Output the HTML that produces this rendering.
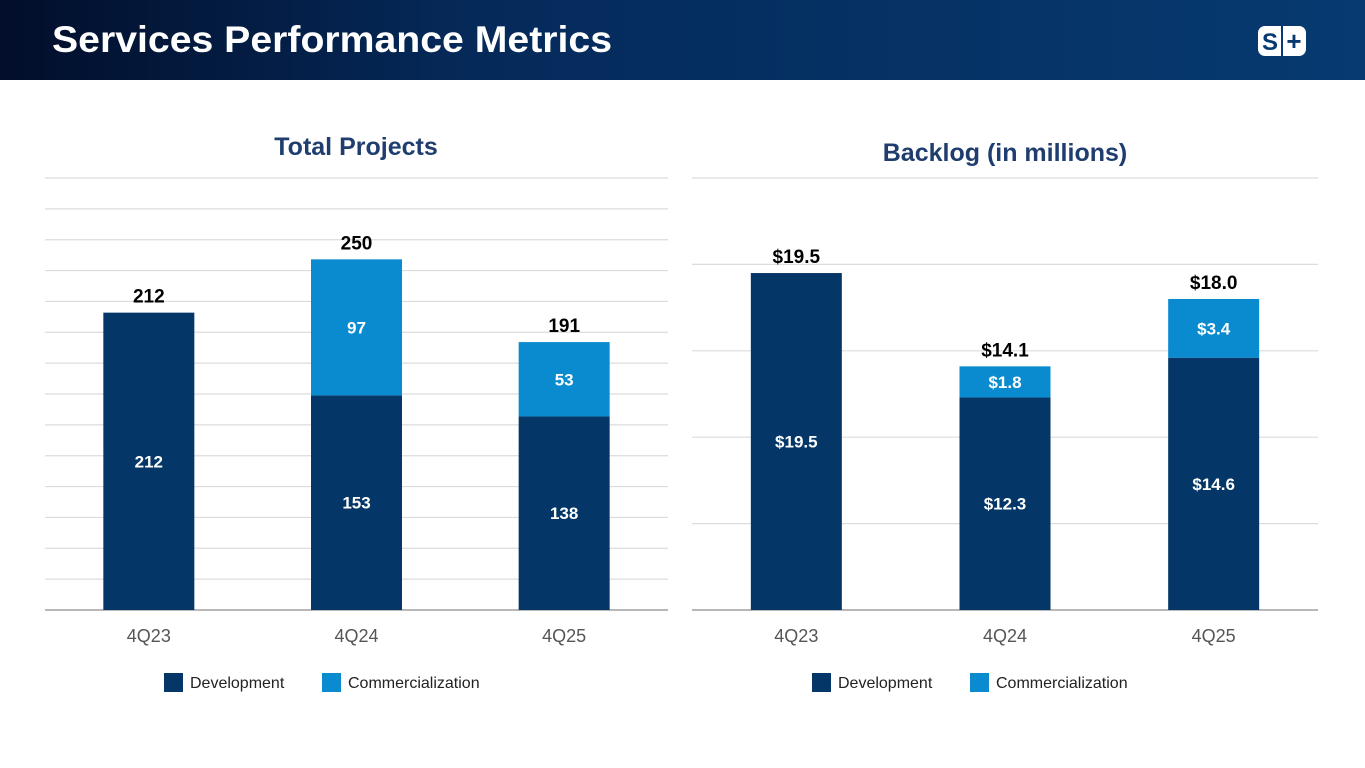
<!DOCTYPE html>
<html><head><meta charset="utf-8"><style>
html,body{margin:0;padding:0;background:#fff;}
svg{display:block;font-family:"Liberation Sans",sans-serif;}
</style></head><body>
<svg id="s" width="1365" height="768" viewBox="0 0 1365 768">
<defs><linearGradient id="hg" x1="0" x2="1" y1="0" y2="0"><stop offset="0" stop-color="#020e2a"/><stop offset="0.35" stop-color="#052a5a"/><stop offset="1" stop-color="#063a70"/></linearGradient></defs>
<rect x="0" y="0" width="1365" height="80" fill="url(#hg)"/>
<text x="52" y="52" font-size="37" font-weight="bold" fill="#fff" textLength="560" lengthAdjust="spacingAndGlyphs">Services Performance Metrics</text>
<g>
<rect x="1258" y="26" width="48" height="30" rx="7" fill="#fff"/>
<line x1="1282" y1="26" x2="1282" y2="56" stroke="#063a70" stroke-width="2"/>
<text x="1270" y="50" font-size="24" font-weight="bold" fill="#063a70" text-anchor="middle">S</text>
<text x="1294" y="50" font-size="26" font-weight="bold" fill="#063a70" text-anchor="middle">+</text>
</g>
<g id="c1"></g>
<g id="c2"></g>
</svg>
<script>
const NS='http://www.w3.org/2000/svg';
const categories=['4Q23','4Q24','4Q25'];
const projDev=[212,153,138];
const projComm=[0,97,53];
const projTotal=[212,250,191];
const backDev=[19.5,12.3,14.6];
const backComm=[0,1.8,3.4];
const backTotal=[19.5,14.1,18.0];
const projGridCount=14;
const backTicks=[0,5,10,15,20,25];
const DEV='#043767',COMM='#0a8bd0';
function el(p,t,a,txt){const e=document.createElementNS(NS,t);for(const k in a)e.setAttribute(k,a[k]);if(txt!==undefined)e.textContent=txt;p.appendChild(e);return e;}
function chart(g,cfg){
  const x0=cfg.x0,x1=cfg.x1,yb=610,yt=178;
  const y=v=>yb-v*(yb-yt)/cfg.max;
  const t=el(g,'text',{x:cfg.tx,y:cfg.ty,'font-size':25,'font-weight':'bold',fill:'#1f3d6e','text-anchor':'middle'},cfg.title);
  
  
  cfg.grid.forEach(v=>{const l=el(g,'line',{x1:x0,x2:x1,y1:y(v),y2:y(v),stroke:'#dcdcdc','stroke-width':1.2});
    
    });
  const ax=el(g,'line',{x1:x0,x2:x1,y1:yb,y2:yb,stroke:'#a0a0a0','stroke-width':1.5});
  
  
  const step=(x1-x0)/categories.length,bw=91;
  categories.forEach((c,i)=>{
    const cx=x0+step*(i+0.5);
    const d=cfg.dev[i],m=cfg.comm[i];
    const r1=el(g,'rect',{x:cx-bw/2,y:y(d),width:bw,height:yb-y(d),fill:DEV});
    
    
    const l1=el(g,'text',{x:cx,y:(y(d)+yb)/2+6,'font-size':17,'font-weight':'bold',fill:'#fff','text-anchor':'middle'},cfg.fmt(d));
    
    
    if(m>0){
      const r2=el(g,'rect',{x:cx-bw/2,y:y(d+m),width:bw,height:y(d)-y(d+m),fill:COMM});
      
      
      const l2=el(g,'text',{x:cx,y:(y(d)+y(d+m))/2+6,'font-size':17,'font-weight':'bold',fill:'#fff','text-anchor':'middle'},cfg.fmt(m));
      
      
    }
    const tl=el(g,'text',{x:cx,y:y(cfg.total[i])-10,'font-size':19,'font-weight':'bold',fill:'#000','text-anchor':'middle'},cfg.fmt(cfg.total[i]));
    
    
    const xl=el(g,'text',{x:cx,y:642,'font-size':18,fill:'#555','text-anchor':'middle'},c);
    
    
  });
  const lx=cfg.lx;
  const a=el(g,'rect',{x:lx,y:673,width:19,height:19,fill:DEV});
  
  
  const at=el(g,'text',{x:lx+26,y:688,'font-size':16,fill:'#222'},'Development');
  
  
  const b=el(g,'rect',{x:lx+158,y:673,width:19,height:19,fill:COMM});
  
  
  const bt=el(g,'text',{x:lx+184,y:688,'font-size':16,fill:'#222'},'Commercialization');
  
  
}
const pmax=308;
const pgrid=[];for(let i=1;i<=projGridCount;i++)pgrid.push(pmax*i/projGridCount);
chart(document.getElementById('c1'),{x0:45,x1:668,max:pmax,title:'Total Projects',tx:356,ty:155,grid:pgrid,dev:projDev,comm:projComm,total:projTotal,fmt:v=>String(v),lx:164});
chart(document.getElementById('c2'),{x0:692,x1:1318,max:25,title:'Backlog (in millions)',tx:1005,ty:161,grid:backTicks.slice(1),dev:backDev,comm:backComm,total:backTotal,fmt:v=>'$'+v.toFixed(1),lx:812});
</script>
</body></html>
